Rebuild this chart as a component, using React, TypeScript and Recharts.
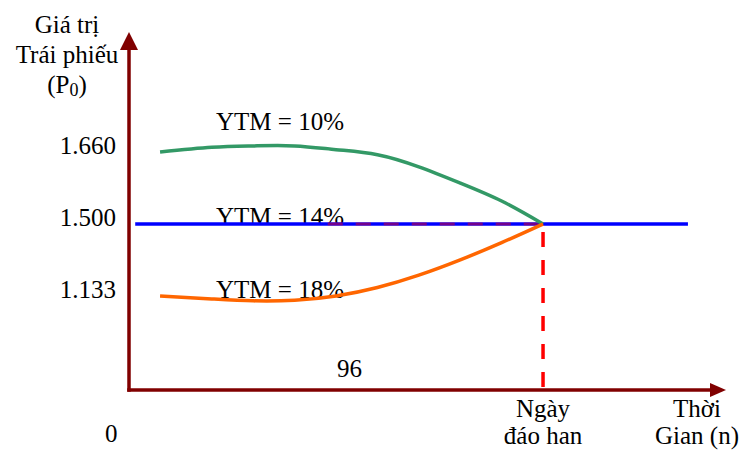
import React from 'react'
import { LineChart, Line, XAxis, YAxis } from 'recharts'

const FONT = "Liberation Serif, Times New Roman, serif"
const AXIS = '#800000'
const GREEN = '#339966'
const ORANGE = '#ff6600'
const BLUE = '#0000ff'
const RED = '#ff0000'

// time periods (n) and the maturity date
const periods = [1.5, 4, 6, 8, 10, 12, 14, 16, 18, 20]
const maturity = 20
const timeDomain = [0, 28.5]

// bond price paths for each yield to maturity
const priceYtm10 = [1660, 1670, 1673, 1673, 1665, 1654, 1627, 1591, 1551, 1500]
const priceYtm18 = [1133, 1118, 1108, 1111, 1133, 1176, 1239, 1317, 1405, 1500]
const parValue = 1500
const parSpan = [0.3, 27]
const dashFrom = 9.6

// price axis: ticks and where each knot sits along it (0 = bottom, 1 = top)
const priceTicks = [1133, 1500, 1660]
const priceDomain = [650, 1900]
const knotValues = [650, 1133, 1500, 1660, 1900]
const knotFractions = [0, 0.2686, 0.4743, 0.68, 1]

const ytm10Data = periods.map((n, i) => ({ n, p: priceYtm10[i] }))
const ytm18Data = periods.map((n, i) => ({ n, p: priceYtm18[i] }))
const ytm14Data = parSpan.map((n) => ({ n, p: parValue }))
const parDashData = [dashFrom, maturity].map((n) => ({ n, p: parValue }))
const maturityDropData = [parValue, priceDomain[0]].map((p) => ({ n: maturity, p }))

// piecewise-linear scale so the schematic price levels sit evenly apart
function kneeScale(values: number[], fracs: number[]): any {
  let dom = [values[0], values[values.length - 1]]
  let rng = [0, 1]
  const frac = (v: number) => {
    let i = 1
    while (i < values.length - 1 && v > values[i]) i++
    const t = (v - values[i - 1]) / (values[i] - values[i - 1])
    return fracs[i - 1] + t * (fracs[i] - fracs[i - 1])
  }
  const s: any = (v: number) => rng[0] + frac(Number(v)) * (rng[1] - rng[0])
  s.domain = (d?: number[]) => {
    if (!d) return dom.slice()
    dom = d.map(Number)
    return s
  }
  s.range = (r?: number[]) => {
    if (!r) return rng.slice()
    rng = r.map(Number)
    return s
  }
  s.copy = () => kneeScale(values, fracs).domain(dom).range(rng)
  s.ticks = () => values.slice(1, -1)
  s.invert = (px: number) => {
    const f = (px - rng[0]) / (rng[1] - rng[0])
    let i = 1
    while (i < fracs.length - 1 && f > fracs[i]) i++
    const t = (f - fracs[i - 1]) / (fracs[i] - fracs[i - 1])
    return values[i - 1] + t * (values[i] - values[i - 1])
  }
  return s
}

const priceScale = kneeScale(knotValues, knotFractions)

const formatPrice = (v: number) => v.toLocaleString('de-DE')

function PriceTick(props: any) {
  const { x, y, payload } = props
  return (
    <text x={x} y={y} dy={2} textAnchor="end" fontFamily={FONT} fontSize={25} fill="#000">
      {formatPrice(payload.value)}
    </text>
  )
}

function MaturityTick(props: any) {
  const { x, y } = props
  return (
    <g fontFamily={FONT} fontSize={25} fill="#000" textAnchor="middle">
      <text x={x} y={y + 27}>Ngày</text>
      <text x={x} y={y + 54}>đáo han</text>
    </g>
  )
}

export default function App() {
  return (
    <div style={{ position: 'absolute', left: 0, top: 0, width: 742, height: 450, background: '#fff' }}>
      <svg
        width={742}
        height={450}
        style={{ position: 'absolute', left: 0, top: 0 }}
        fontFamily={FONT}
        fontSize={25}
        fill="#000"
      >
        <g textAnchor="middle">
          <text x={67} y={33}>Giá trị</text>
          <text x={67} y={63}>Trái phiếu</text>
          <text x={67} y={93}>
            (P<tspan fontSize={18} dy={3}>0</tspan>
            <tspan dy={-3}>)</tspan>
          </text>
        </g>
        <text x={216} y={130}>YTM = 10%</text>
        <text x={216} y={225}>YTM = 14%</text>
        <text x={216} y={298}>YTM = 18%</text>
        <text x={337} y={377}>96</text>
        <text x={105} y={442}>0</text>
        <g textAnchor="middle">
          <text x={697} y={417}>Thời</text>
          <text x={697} y={444}>Gian (n)</text>
        </g>
      </svg>
      <div style={{ position: 'absolute', left: 0, top: 0 }}>
        <LineChart width={742} height={450} margin={{ top: 40, right: 23, bottom: 0, left: 0 }}>
          <defs>
            <marker
              id="arrowX"
              markerUnits="userSpaceOnUse"
              markerWidth={16}
              markerHeight={14}
              refX={9}
              refY={7}
              orient="auto"
            >
              <path d="M0,0 L16,7 L0,14 z" fill={AXIS} />
            </marker>
            <marker
              id="arrowY"
              markerUnits="userSpaceOnUse"
              markerWidth={18}
              markerHeight={18}
              refX={10}
              refY={9}
              orient="auto-start-reverse"
            >
              <path d="M0,0 L18,9 L0,18 z" fill={AXIS} />
            </marker>
          </defs>
          <XAxis
            type="number"
            dataKey="n"
            domain={timeDomain}
            ticks={[maturity]}
            allowDataOverflow
            height={60}
            tickLine={false}
            tickSize={0}
            tickMargin={0}
            tick={<MaturityTick />}
            axisLine={{ stroke: AXIS, strokeWidth: 3.5, strokeLinecap: 'square', markerEnd: 'url(#arrowX)' }}
          />
          <YAxis
            type="number"
            dataKey="p"
            domain={priceDomain}
            scale={priceScale}
            ticks={priceTicks}
            allowDataOverflow
            width={129}
            tickLine={false}
            tickSize={0}
            tickMargin={13}
            tick={<PriceTick />}
            axisLine={{ stroke: AXIS, strokeWidth: 3.5, strokeLinecap: 'square', markerStart: 'url(#arrowY)' }}
          />
          <Line
            data={ytm14Data}
            dataKey="p"
            stroke={BLUE}
            strokeWidth={3.5}
            dot={false}
            activeDot={false}
            isAnimationActive={false}
          />
          <Line
            data={parDashData}
            dataKey="p"
            stroke={RED}
            strokeOpacity={0.45}
            strokeWidth={3}
            strokeDasharray="15 13"
            dot={false}
            activeDot={false}
            isAnimationActive={false}
          />
          <Line
            data={maturityDropData}
            dataKey="p"
            stroke={RED}
            strokeWidth={3.5}
            strokeDasharray="15 13"
            strokeDashoffset={20}
            dot={false}
            activeDot={false}
            isAnimationActive={false}
          />
          <Line
            data={ytm10Data}
            dataKey="p"
            type="natural"
            stroke={GREEN}
            strokeWidth={3.5}
            dot={false}
            activeDot={false}
            isAnimationActive={false}
          />
          <Line
            data={ytm18Data}
            dataKey="p"
            type="natural"
            stroke={ORANGE}
            strokeWidth={3.5}
            dot={false}
            activeDot={false}
            isAnimationActive={false}
          />
        </LineChart>
      </div>
    </div>
  )
}
